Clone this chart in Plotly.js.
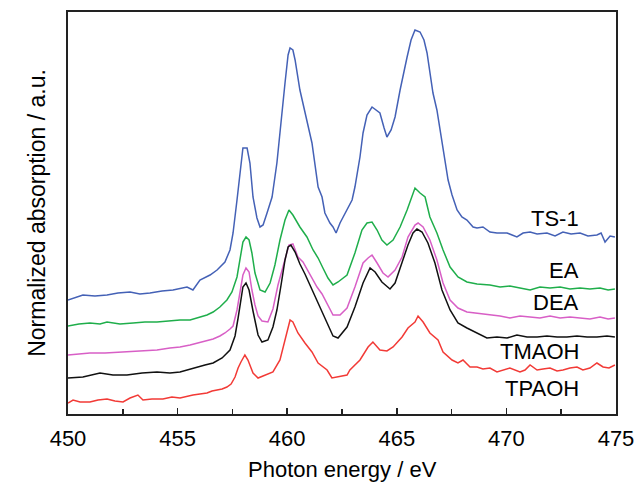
<!DOCTYPE html>
<html>
<head>
<meta charset="utf-8">
<script src="https://cdn.plot.ly/plotly-3.0.1.min.js"></script>
<style>html,body{margin:0;padding:0;background:#fff;}#chart{width:636px;height:484px;}</style>
</head>
<body>
<div id="chart"></div>
<script>
// Photon energy (eV) and normalized absorption (a.u., offset)
const seriesNames = ["TS-1", "EA", "DEA", "TMAOH", "TPAOH"];

const energyTS1 = [450.00,450.68,451.23,451.78,452.28,452.83,453.28,453.74,454.29,454.79,455.43,455.70,456.02,456.48,456.80,457.16,457.39,457.53,457.71,457.85,457.98,458.17,458.30,458.44,458.62,458.76,458.90,459.08,459.31,459.53,459.67,459.90,460.04,460.13,460.26,460.36,460.58,460.90,461.13,461.41,461.59,461.72,461.95,462.09,462.23,462.41,462.73,462.96,463.09,463.32,463.46,463.64,463.87,464.05,464.23,464.42,464.55,464.74,464.92,465.15,465.33,465.47,465.65,465.83,466.06,466.24,466.38,466.65,466.83,466.97,467.20,467.34,467.52,467.75,467.97,468.20,468.48,468.66,468.93,469.25,469.57,470.03,470.26,470.48,470.76,471.08,471.40,471.85,472.22,472.58,472.95,473.36,473.72,474.13,474.32,474.50,474.73,474.95];
const absTS1 = [1.14,1.19,1.18,1.19,1.21,1.22,1.20,1.21,1.23,1.24,1.27,1.24,1.34,1.39,1.44,1.52,1.64,1.81,2.14,2.44,2.66,2.66,2.51,2.17,1.96,1.87,1.89,2.01,2.17,2.51,2.84,3.31,3.59,3.66,3.64,3.54,3.24,2.94,2.71,2.27,2.17,2.01,1.91,1.87,1.81,1.91,2.04,2.14,2.27,2.57,2.81,2.99,3.07,3.04,3.01,2.86,2.77,2.84,2.97,3.24,3.44,3.57,3.74,3.84,3.82,3.74,3.61,3.21,3.04,2.84,2.54,2.34,2.19,2.04,1.97,1.94,1.87,1.86,1.87,1.82,1.81,1.81,1.79,1.77,1.81,1.82,1.80,1.81,1.78,1.82,1.80,1.81,1.78,1.79,1.81,1.72,1.78,1.77];

const energyEA = [450.00,450.50,451.00,451.46,451.78,452.37,452.97,453.51,454.06,454.56,455.11,455.57,455.89,456.34,456.62,456.93,457.25,457.48,457.71,457.85,457.98,458.12,458.26,458.39,458.53,458.76,458.99,459.22,459.44,459.67,459.90,460.08,460.26,460.58,460.90,461.18,461.41,461.63,461.86,462.09,462.32,462.73,463.09,463.41,463.64,463.87,464.10,464.32,464.55,464.83,465.15,465.47,465.69,465.83,466.06,466.29,466.51,466.83,467.11,467.43,467.79,468.20,468.66,469.25,469.71,470.16,470.62,471.08,471.53,471.99,472.45,472.90,473.36,473.81,474.27,474.64,474.95];
const absEA = [0.88,0.90,0.91,0.90,0.92,0.90,0.91,0.92,0.92,0.93,0.94,0.94,0.96,0.99,1.02,1.07,1.14,1.22,1.37,1.54,1.72,1.77,1.74,1.61,1.41,1.24,1.22,1.31,1.49,1.74,1.94,2.04,1.99,1.87,1.77,1.64,1.56,1.46,1.36,1.29,1.32,1.39,1.61,1.84,1.91,1.92,1.84,1.74,1.69,1.74,1.87,2.04,2.17,2.26,2.21,2.17,1.97,1.81,1.64,1.47,1.37,1.32,1.30,1.29,1.27,1.28,1.26,1.24,1.27,1.26,1.27,1.25,1.26,1.25,1.26,1.24,1.25];

const energyDEA = [450.00,450.55,451.00,451.69,452.51,453.28,454.06,454.65,455.11,455.57,455.89,456.25,456.62,456.93,457.16,457.39,457.53,457.71,457.85,457.98,458.12,458.26,458.39,458.53,458.67,458.85,459.12,459.35,459.58,459.76,459.95,460.08,460.26,460.49,460.72,461.04,461.36,461.59,461.82,462.09,462.41,462.73,463.09,463.46,463.69,463.87,464.10,464.37,464.60,464.92,465.24,465.51,465.83,465.97,466.20,466.51,466.83,467.11,467.43,467.79,468.20,468.66,469.25,469.71,470.16,470.62,471.08,471.53,471.99,472.45,472.90,473.36,473.81,474.27,474.64,474.95];
const absDEA = [0.59,0.60,0.61,0.61,0.62,0.63,0.64,0.66,0.67,0.69,0.71,0.73,0.75,0.78,0.81,0.85,0.88,1.04,1.22,1.39,1.46,1.42,1.24,1.09,0.98,0.93,0.92,1.05,1.29,1.44,1.61,1.69,1.70,1.57,1.52,1.39,1.27,1.20,1.11,0.99,0.99,1.06,1.27,1.51,1.56,1.59,1.51,1.41,1.37,1.44,1.57,1.77,1.89,1.91,1.87,1.74,1.54,1.31,1.14,1.06,1.02,1.01,0.99,0.98,0.96,0.98,0.97,0.96,0.98,0.96,0.97,0.96,0.95,0.97,0.95,0.96];

const energyTMAOH = [450.00,450.68,451.46,452.05,452.69,453.38,454.06,454.65,455.11,455.57,455.89,456.25,456.62,457.03,457.39,457.62,457.76,457.85,457.98,458.12,458.26,458.44,458.67,458.85,459.12,459.35,459.53,459.72,459.90,460.04,460.17,460.36,460.58,460.81,461.04,461.36,461.72,462.09,462.32,462.73,463.09,463.46,463.78,464.01,464.32,464.69,464.92,465.24,465.51,465.74,465.92,466.15,466.42,466.74,467.06,467.43,467.79,468.20,468.66,469.11,469.57,470.03,470.48,470.94,471.40,471.85,472.31,472.76,473.22,473.68,474.13,474.59,474.95];
const absTMAOH = [0.36,0.37,0.41,0.39,0.39,0.41,0.42,0.41,0.42,0.45,0.47,0.49,0.51,0.56,0.64,0.78,0.96,1.11,1.27,1.31,1.24,1.03,0.79,0.72,0.74,0.87,1.04,1.29,1.54,1.67,1.69,1.62,1.50,1.40,1.29,1.14,0.96,0.78,0.76,0.87,1.07,1.31,1.46,1.42,1.32,1.25,1.31,1.51,1.69,1.81,1.85,1.82,1.71,1.51,1.24,1.04,0.91,0.86,0.81,0.76,0.77,0.76,0.79,0.77,0.77,0.78,0.77,0.77,0.78,0.77,0.77,0.78,0.77];

const energyTPAOH = [450.00,450.23,450.55,451.00,451.37,451.78,452.14,452.51,452.83,453.19,453.42,453.83,454.33,454.74,455.11,455.43,455.70,456.02,456.34,456.57,456.80,457.03,457.25,457.44,457.62,457.76,457.89,458.07,458.21,458.44,458.67,458.99,459.35,459.67,459.90,460.13,460.26,460.49,460.81,461.13,461.41,461.63,461.82,462.04,462.32,462.73,462.86,463.32,463.69,463.91,464.23,464.55,464.83,465.24,465.51,465.83,465.97,466.20,466.51,466.88,467.11,467.52,467.79,468.02,468.34,468.66,468.93,469.25,469.57,469.84,470.16,470.62,470.85,471.08,471.40,471.67,471.99,472.31,472.58,472.90,473.22,473.49,473.81,474.13,474.41,474.68,474.95];
const absTPAOH = [0.11,0.14,0.12,0.12,0.14,0.15,0.13,0.12,0.16,0.19,0.14,0.15,0.15,0.17,0.16,0.18,0.19,0.20,0.21,0.23,0.24,0.25,0.27,0.30,0.37,0.46,0.52,0.59,0.54,0.41,0.36,0.39,0.42,0.54,0.74,0.94,0.92,0.81,0.71,0.62,0.51,0.47,0.44,0.36,0.37,0.39,0.44,0.54,0.67,0.72,0.64,0.63,0.67,0.77,0.86,0.92,0.98,0.92,0.81,0.74,0.62,0.54,0.51,0.54,0.47,0.47,0.45,0.46,0.42,0.44,0.46,0.42,0.44,0.49,0.44,0.45,0.46,0.43,0.44,0.46,0.47,0.44,0.46,0.51,0.47,0.46,0.49];

// label anchor heights (a.u.) beside the curves
const labelY = [1.96, 1.44, 1.12, 0.63, 0.26];
const xTickVals = [450, 455, 460, 465, 470, 475];
const xTitle = "Photon energy / eV";
const yTitle = "Normalized absorption / a.u.";

const energies = [energyTS1, energyEA, energyDEA, energyTMAOH, energyTPAOH];
const values = [absTS1, absEA, absDEA, absTMAOH, absTPAOH];
const colors = ["#4461b6", "#1fae4b", "#d85fc6", "#111111", "#f23a36"];

const font = "Liberation Sans, Arial, Helvetica, sans-serif";

const traces = seriesNames.map((n, i) => ({
  x: energies[i], y: values[i], name: n, type: "scatter", mode: "lines",
  line: {color: colors[i], width: 1.5}, hoverinfo: "x+y+name"
}));

const annotations = seriesNames.map((n, i) => ({
  x: 473.4, y: labelY[i], xref: "x", yref: "y", text: n, showarrow: false,
  xanchor: "right", yanchor: "middle", font: {family: font, size: 22, color: "#000"}
}));
annotations.push({
  x: 0.5, y: 0, xref: "paper", yref: "paper", yanchor: "top", xanchor: "center",
  yshift: -41, text: xTitle, showarrow: false, font: {family: font, size: 22, color: "#000"}
});

const layout = {
  width: 636, height: 484,
  margin: {l: 68, r: 20, t: 12, b: 70},
  paper_bgcolor: "#fff", plot_bgcolor: "#fff",
  showlegend: false,
  font: {family: font, color: "#000"},
  xaxis: {
    range: [450, 475], tickvals: xTickVals, ticks: "inside", ticklen: 6, tickwidth: 1.5,
    tickcolor: "#222", showline: true, linecolor: "#222", linewidth: 2, mirror: true,
    showgrid: false, zeroline: false, tickfont: {family: font, size: 22, color: "#000"},
    ticklabelstandoff: 4,
    minor: {dtick: 2.5, ticks: "inside", ticklen: 5, tickwidth: 1.5, tickcolor: "#222", showgrid: false}
  },
  yaxis: {
    range: [0, 4.02], showticklabels: false, ticks: "", showgrid: false, zeroline: false,
    showline: true, linecolor: "#222", linewidth: 2, mirror: true,
    title: {text: yTitle, font: {family: font, size: 23, color: "#000"}, standoff: 14}
  },
  annotations: annotations
};

Plotly.newPlot("chart", traces, layout, {displayModeBar: false, staticPlot: true});
</script>
</body>
</html>
